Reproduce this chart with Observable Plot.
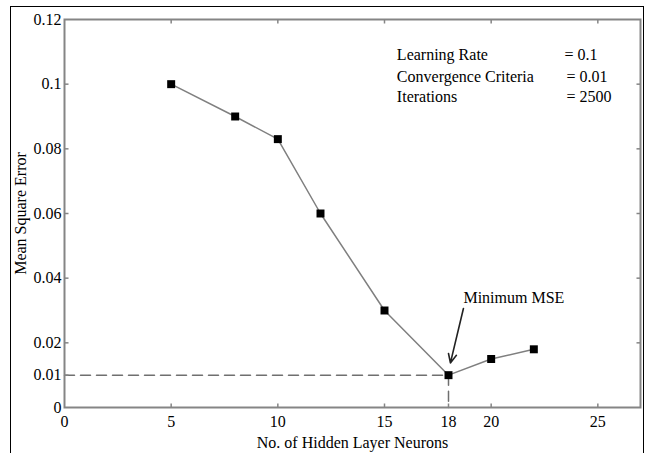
<!DOCTYPE html>
<html>
<head>
<meta charset="utf-8">
<script src="https://cdn.jsdelivr.net/npm/d3@7"></script>
<script src="https://cdn.jsdelivr.net/npm/@observablehq/plot@0.6"></script>
<style>
  html, body { margin: 0; padding: 0; background: #fff; overflow: hidden; }
  #wrap { position: relative; width: 648px; height: 453px; }
  #wrap svg, #wrap svg text { font-family: "Liberation Serif", "Times New Roman", serif !important; }
  #border { position: absolute; left: 10px; top: 6px; width: 632px; height: 520px;
            border: 1.5px solid #000; pointer-events: none; }
</style>
</head>
<body>
<div id="wrap"><div id="border"></div></div>
<script>
// Network size vs. training error
const neurons = [5, 8, 10, 12, 15, 18, 20, 22];
const mse = [0.1, 0.09, 0.083, 0.06, 0.03, 0.01, 0.015, 0.018];

// Axis ticks
const xTicks = [0, 5, 10, 15, 18, 20, 25];
const yTicks = [0, 0.01, 0.02, 0.04, 0.06, 0.08, 0.1, 0.12];
const xTopTicks = [5, 10, 15, 20, 25];
const yRightTicks = [0.02, 0.04, 0.06, 0.08, 0.1];

// Training parameters shown in the corner
const paramNames = ["Learning Rate", "Convergence Criteria", "Iterations"];
const paramValues = ["= 0.1", "= 0.01", "= 2500"];
const minLabel = "Minimum MSE";

const W = 648, H = 453;
const mL = 64, mR = 8, mT = 19, mB = 46;
const tickLen = 4;
const gray = "#858585";
const font = "'Liberation Serif', 'Times New Roman', serif";

const points = neurons.map((n, i) => ({n, e: mse[i]}));
const best = points.reduce((a, b) => (b.e < a.e ? b : a));

// Positions of the parameter table, in data units
const paramRows = paramNames.map((name, i) => ({
  name, value: paramValues[i],
  y: [0.1092, 0.1023, 0.0960][i],
  xv: [23.44, 23.53, 23.53][i]
}));

// Short inward tick symbols for a boxed axis
const tickSymbol = (dx, dy) => ({
  draw(ctx) { ctx.moveTo(0, 0); ctx.lineTo(dx * tickLen, dy * tickLen); }
});
const tickUp = tickSymbol(0, -1), tickDown = tickSymbol(0, 1);
const tickRight = tickSymbol(1, 0), tickLeft = tickSymbol(-1, 0);

const chart = Plot.plot({
  width: W, height: H,
  marginLeft: mL, marginRight: mR, marginTop: mT, marginBottom: mB,
  style: {fontFamily: font, fontSize: "16px", color: "#000", background: "#fff"},
  x: {domain: [0, 27]},
  y: {domain: [0, 0.12]},
  marks: [
    // dashed guide to the minimum
    Plot.line([{n: 0, e: best.e}, {n: best.n, e: best.e}, {n: best.n, e: 0}], {
      x: "n", y: "e", stroke: "#6f6f6f", strokeWidth: 1.5, strokeDasharray: "10,6"
    }),
    // inward ticks on all four sides
    Plot.dot(xTicks.slice(1), {x: d => d, y: 0, symbol: tickUp, stroke: gray, strokeWidth: 1.5, fill: "none"}),
    Plot.dot(xTopTicks, {x: d => d, y: 0.12, symbol: tickDown, stroke: gray, strokeWidth: 1.5, fill: "none"}),
    Plot.dot(yTicks.slice(1, -1), {x: 0, y: d => d, symbol: tickRight, stroke: gray, strokeWidth: 1.5, fill: "none"}),
    Plot.dot(yRightTicks, {x: 27, y: d => d, symbol: tickLeft, stroke: gray, strokeWidth: 1.5, fill: "none"}),
    Plot.frame({stroke: gray, strokeWidth: 2}),
    Plot.axisX({
      ticks: xTicks, tickSize: 0, tickPadding: 8, tickFormat: d => String(d), fontFamily: font,
      label: "No. of Hidden Layer Neurons", labelAnchor: "center", labelArrow: "none", labelOffset: 40
    }),
    Plot.axisY({
      ticks: yTicks, tickSize: 0, tickPadding: 3, tickFormat: d => String(d), fontFamily: font,
      label: "Mean Square Error", labelAnchor: "center", labelArrow: "none", labelOffset: 50
    }),
    // the error curve
    Plot.line(points, {x: "n", y: "e", stroke: "#7f7f7f", strokeWidth: 1.5}),
    Plot.dot(points, {x: "n", y: "e", symbol: "square", r: 4.5, fill: "#000", stroke: null}),
    // annotation of the minimum
    Plot.arrow([{x1: 18.70, y1: 0.0306, x2: best.n + 0.09, y2: best.e + 0.0038}], {
      x1: "x1", y1: "y1", x2: "x2", y2: "y2", stroke: "#222", strokeWidth: 1.6, headLength: 9, headAngle: 50
    }),
    Plot.text([minLabel], {x: 18.70, y: 0.0340, text: d => d, textAnchor: "start", lineAnchor: "middle", fontSize: 16, fontFamily: font}),
    // training parameters
    Plot.text(paramRows, {x: 15.58, y: "y", text: "name", textAnchor: "start", lineAnchor: "middle", fontSize: 16, fontFamily: font}),
    Plot.text(paramRows, {x: "xv", y: "y", text: "value", textAnchor: "start", lineAnchor: "middle", fontSize: 16, fontFamily: font})
  ]
});

document.getElementById("wrap").prepend(chart);
</script>
</body>
</html>
